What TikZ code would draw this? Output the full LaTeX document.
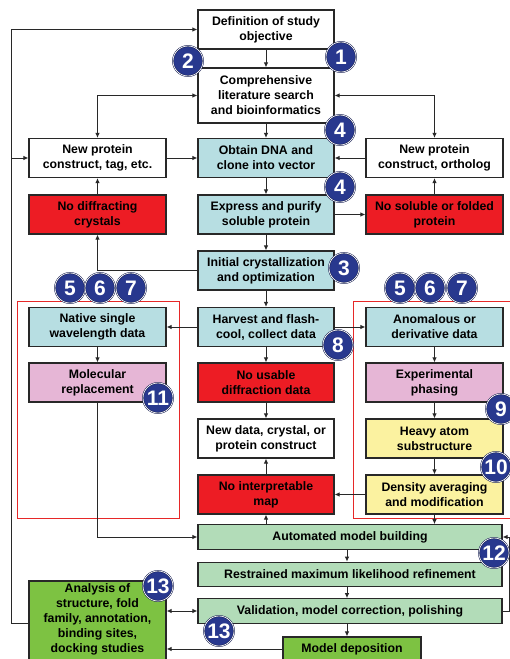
\documentclass[tikz,border=0pt]{standalone}
\usepackage{fontspec}
\setmainfont{Liberation Sans}
\usetikzlibrary{arrows.meta,calc}
\definecolor{cteal}{RGB}{183,222,226}
\definecolor{cpink}{RGB}{230,182,214}
\definecolor{cred}{RGB}{237,28,36}
\definecolor{cyel}{RGB}{251,242,160}
\definecolor{clgreen}{RGB}{178,220,184}
\definecolor{cdgreen}{RGB}{125,194,66}
\definecolor{cblue}{RGB}{40,56,142}
\definecolor{cdark}{RGB}{20,28,80}
\definecolor{bord}{RGB}{40,40,40}
\definecolor{rline}{RGB}{230,40,40}
\begin{document}
\begin{tikzpicture}[x=1pt,y=-1pt,
  bx/.style={draw=bord, line width=1.1pt, inner sep=0pt, align=center,
    font=\bfseries\fontsize{12.3}{15}\selectfont, minimum width=136pt, minimum height=39pt},
  wide/.style={bx, minimum width=304pt, minimum height=24.5pt},
  num/.style={circle, fill=cblue, draw=cdark, line width=0.5pt, double=white, double distance=0.7pt,
    minimum size=30pt, inner sep=0pt, text=white, font=\bfseries\fontsize{21}{21}\selectfont},
  arr/.style={draw=bord, line width=1pt, -{Latex[length=5pt,width=4.5pt]}},
  arrb/.style={draw=bord, line width=1pt, {Latex[length=5pt,width=4.5pt]}-{Latex[length=5pt,width=4.5pt]}},
  redbox/.style={draw=rline, line width=0.9pt}]
\useasboundingbox (0,0) rectangle (510,659);
\clip (0,0) rectangle (510,659);
\fill[white] (0,0) rectangle (510,659);

% red grouping frames
\draw[redbox] (17,301) rectangle (179,518);
\draw[redbox] (353,301) rectangle (520,518);

% boxes
\node[bx, fill=white] (def) at (266,29.5) {Definition of study\\objective};
\node[bx, fill=white, minimum height=55pt] (comp) at (266,95.5) {Comprehensive\\literature search\\and bioinformatics};
\node[bx, fill=white, minimum width=137pt] (newL) at (97.5,158) {New protein\\construct, tag, etc.};
\node[bx, fill=cteal] (obtain) at (266,158) {Obtain DNA and\\clone into vector};
\node[bx, fill=white, minimum width=137pt] (newR) at (434.5,158) {New protein\\construct, ortholog};
\node[bx, fill=cred, minimum width=137pt] (nodiff) at (97.5,214.5) {No diffracting\\crystals};
\node[bx, fill=cteal] (express) at (266,214.5) {Express and purify\\soluble protein};
\node[bx, fill=cred, minimum width=137pt] (nosol) at (434.5,214.5) {No soluble or folded\\protein};
\node[bx, fill=cteal] (initial) at (266,270.5) {Initial crystallization\\and optimization};
\node[bx, fill=cteal, minimum width=137pt] (native) at (97.5,327) {Native single\\wavelength data};
\node[bx, fill=cteal] (harvest) at (266,327) {Harvest and flash-\\cool, collect data};
\node[bx, fill=cteal, minimum width=137pt] (anom) at (434.5,327) {Anomalous or\\derivative data};
\node[bx, fill=cpink, minimum width=137pt] (molrep) at (97.5,382.5) {Molecular\\replacement};
\node[bx, fill=cred] (nousable) at (266,382.5) {No usable\\diffraction data};
\node[bx, fill=cpink, minimum width=137pt] (exp) at (434.5,382.5) {Experimental\\phasing};
\node[bx, fill=white] (newdata) at (266,438.5) {New data, crystal, or\\protein construct};
\node[bx, fill=cyel, minimum width=137pt] (heavy) at (434.5,438.5) {Heavy atom\\substructure};
\node[bx, fill=cred] (nomap) at (266,494.5) {No interpretable\\map};
\node[bx, fill=cyel, minimum width=137pt] (density) at (434.5,494.5) {Density averaging\\and modification};
\node[wide, fill=clgreen] (amb) at (350,537) {Automated model building};
\node[wide, fill=clgreen] (restr) at (350,574.5) {Restrained maximum likelihood refinement};
\node[wide, fill=clgreen] (valid) at (350,611) {Validation, model correction, polishing};
\node[bx, fill=cdgreen, minimum width=137pt, minimum height=84pt] (analysis) at (97.5,623) {};
\node[align=center, inner sep=0pt, font=\bfseries\fontsize{12.3}{15}\selectfont] (analysistxt) at (97.5,619)
  {Analysis of\\structure, fold\\family, annotation,\\binding sites,\\docking studies};
\node[bx, fill=cdgreen, minimum width=138pt, minimum height=24pt] (deposit) at (352,649) {Model deposition};

% helper coordinates
\coordinate (Ltop) at (11,29.5);
\coordinate (Rx) at (509.5,0);
\coordinate (cx) at (347,0);

% connectors
\draw[arr] (def.south) -- (comp.north);
\draw[arr] (comp.south) -- (obtain.north);
\draw[arrb] (comp.west) -- (comp.west -| newL.north) -- (newL.north);
\draw[arrb] (comp.east) -- (comp.east -| newR.north) -- (newR.north);
\draw[arr] (newL.east) -- (obtain.west);
\draw[arr] (newR.west) -- (obtain.east);
\draw[arr] (obtain.south) -- (express.north);
\draw[arr] (express.east) -- (nosol.west);
\draw[arr] (nosol.north) -- (newR.south);
\draw[arr] (nodiff.north) -- (newL.south);
\draw[arr] (express.south) -- (initial.north);
\draw[arr] (initial.west) -- (initial.west -| nodiff.south) -- (nodiff.south);
\draw[arr] (initial.south) -- (harvest.north);
\draw[arr] (harvest.west) -- (native.east);
\draw[arr] (harvest.east) -- (anom.west);
\draw[arr] (harvest.south) -- (nousable.north);
\draw[arr] (native.south) -- (molrep.north);
\draw[arr] (anom.south) -- (exp.north);
\draw[arr] (nousable.south) -- (newdata.north);
\draw[arr] (exp.south) -- (heavy.north);
\draw[arr] (heavy.south) -- (density.north);
\draw[arr] (nomap.north) -- (newdata.south);
\draw[arr] (density.west) -- (nomap.east);
\draw[arr] (amb.north -| nomap.south) -- (nomap.south);
\draw[arr] (density.south) -- (density.south |- amb.north);
\draw[arr] (molrep.south) -- (molrep.south |- amb.west) -- (amb.west);
\draw[arr] (amb.south -| cx) -- (restr.north -| cx);
\draw[arr] (restr.south -| cx) -- (valid.north -| cx);
\draw[arr] (valid.south -| cx) -- (deposit.north -| cx);
\draw[arr] (valid.east) -- (valid.east -| Rx) -- (amb.east -| Rx) -- (amb.east);
\draw[arrb] (analysis.east |- valid.west) -- (valid.west);
\draw[arr] (deposit.west) -- (deposit.west -| analysis.east);
\draw[arr] (analysis.west) -- (analysis.west -| Ltop) -- (Ltop) -- (def.west);
\draw[arr] (newL.west -| Ltop) -- (newL.west);

% numbered circles
\node[num] (n1) at (341,57) {1};
\node[num] (n2) at (188,61) {2};
\node[num] (n4a) at (340,130) {4};
\node[num] (n4b) at (340,187) {4};
\node[num] (n3) at (344,268) {3};
\node[num] (n5L) at (70,288) {5};
\node[num] (n6L) at (100,288) {6};
\node[num] (n7L) at (131,288) {7};
\node[num] (n5R) at (400,288) {5};
\node[num] (n6R) at (430,288) {6};
\node[num] (n7R) at (462,288) {7};
\node[num] (n8) at (338,345) {8};
\node[num] (n11) at (158,398) {11};
\node[num] (n9) at (501,409) {9};
\node[num] (n10) at (496,467) {10};
\node[num] (n12) at (494,553) {12};
\node[num] (n13a) at (158,586) {13};
\node[num] (n13b) at (219,631) {13};
\end{tikzpicture}
\end{document}
